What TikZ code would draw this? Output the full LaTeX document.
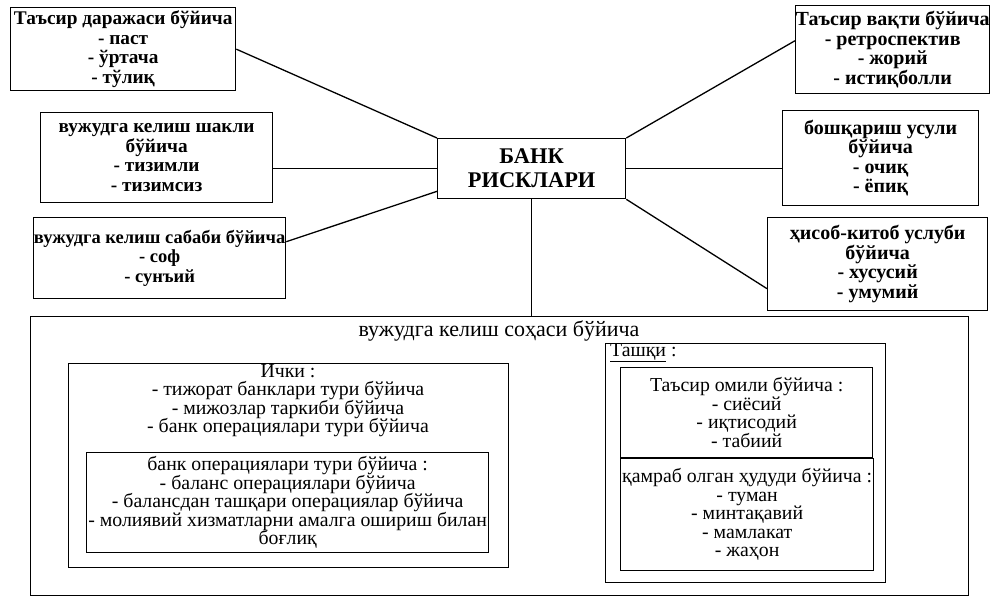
\documentclass[tikz,border=0pt]{standalone}
\usepackage{fontspec}
\setmainfont{Liberation Serif}
\usetikzlibrary{calc}

\newcommand\tightlines{\lineskiplimit-20pt\relax}

\tikzset{
  riskbox/.style={draw, line width=1.3pt, anchor=north west, inner sep=0pt, align=center,
    font={\bfseries\fontsize{19.3}{19.5}\selectfont\tightlines}},
  rightbox/.style={riskbox, font={\bfseries\fontsize{20}{19.5}\selectfont\tightlines}},
  areabox/.style={draw, line width=1.3pt, anchor=north west, inner sep=0pt, align=center,
    font={\fontsize{19.8}{18.5}\selectfont\tightlines}},
  areatext/.style={inner sep=0pt, align=center, font={\fontsize{19.8}{18.5}\selectfont\tightlines}},
  link/.style={line width=1.3pt}
}

\begin{document}
\begin{tikzpicture}[x=1pt,y=-1pt]
  \useasboundingbox (0,0) rectangle (990,598);

  % centre
  \node [riskbox, minimum width=188pt, minimum height=60pt,
         font=\bfseries\fontsize{22.4}{24}\selectfont] (bank) at (437,138) {БАНК\\РИСКЛАРИ};

  % left boxes
  \node [riskbox, minimum width=225pt, minimum height=83pt] (daraja) at (10,7)
    {Таъсир даражаси бўйича\\- паст\\- ўртача\\- тўлиқ};
  \node [riskbox, minimum width=232pt, minimum height=90pt] (shakl) at (40,112)
    {вужудга келиш шакли\\бўйича\\- тизимли\\- тизимсиз};
  \node [riskbox, minimum width=252pt, minimum height=81pt,
         font={\bfseries\fontsize{18.5}{19.5}\selectfont\tightlines}] (sabab) at (33,217)
    {вужудга келиш сабаби бўйича\\- соф\\- сунъий};

  % right boxes
  \node [rightbox, minimum width=193pt, minimum height=88pt] (vaqt) at (795,5)
    {Таъсир вақти бўйича\\- ретроспектив\\- жорий\\- истиқболли};
  \node [rightbox, minimum width=196pt, minimum height=95pt] (boshqar) at (782,110)
    {бошқариш усули\\бўйича\\- очиқ\\- ёпиқ};
  \node [rightbox, minimum width=220pt, minimum height=93pt] (hisob) at (767,217)
    {ҳисоб-китоб услуби\\бўйича\\- хусусий\\- умумий};

  % sohasi
  \node [areabox, minimum width=938pt, minimum height=279pt] (soha) at (30,316) {};
  \node [areatext, anchor=base, font=\fontsize{22}{20}\selectfont] (sohatitle) at (499,336)
    {вужудга келиш соҳаси бўйича};

  \node [areabox, minimum width=440pt, minimum height=204pt] (ichki) at (68,363) {};
  \node [areatext, anchor=north] (ichkitext) at (288,364)
    {Ички :\\- тижорат банклари тури бўйича\\- мижозлар таркиби бўйича\\- банк операциялари тури бўйича};
  \node [areabox, minimum width=402pt, minimum height=100pt] (operatsiya) at (86,452)
    {банк операциялари тури бўйича :\\- баланс операциялари бўйича\\- балансдан ташқари операциялар бўйича\\- молиявий хизматларни амалга ошириш билан\\боғлиқ};

  \node [areabox, minimum width=280pt, minimum height=239pt] (tashqi) at (605,343) {};
  \node [areatext, anchor=north west] (tashqitext) at (610,343) {\underline{Ташқи} :};
  \node [areabox, minimum width=252pt, minimum height=90pt] (omil) at (620,367)
    {Таъсир омили бўйича :\\- сиёсий\\- иқтисодий\\- табиий};
  \node [areabox, minimum width=253pt, minimum height=112pt] (hudud) at (620,458)
    {қамраб олган ҳудуди бўйича :\\- туман\\- минтақавий\\- мамлакат\\- жаҳон};

  % connectors
  \draw [link] (daraja.east) -- (bank.north west);
  \draw [link] (bank.west -| shakl.east) -- (bank.west);
  \draw [link] ($(sabab.north east)!0.3!(sabab.south east)$) -- ($(bank.north west)!0.87!(bank.south west)$);
  \draw [link] (bank.north east) -- ($(vaqt.north west)!0.4!(vaqt.south west)$);
  \draw [link] (bank.east) -- (bank.east -| boshqar.west);
  \draw [link] (bank.south east) -- ($(hisob.north west)!0.76!(hisob.south west)$);
  \draw [link] (bank.south) -- (bank.south |- soha.north);
\end{tikzpicture}
\end{document}
